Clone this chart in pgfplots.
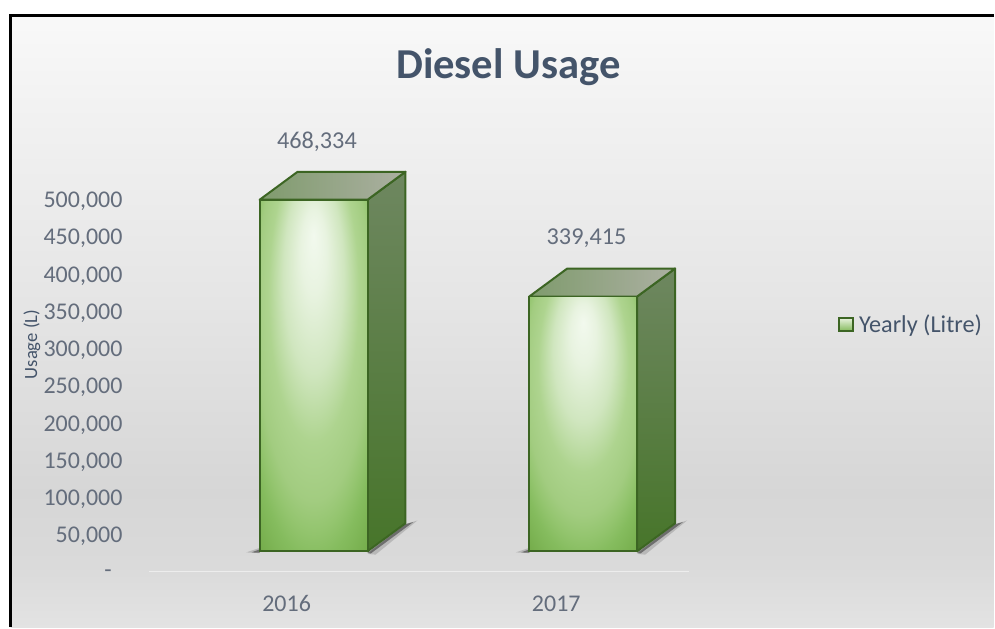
\documentclass[border=0pt]{standalone}
\usepackage{fontspec}
\setmainfont{Carlito}
\usepackage{pgfplots}
\pgfplotsset{compat=1.18}

% 1px of the reference = 0.75pt
\definecolor{titleblue}{HTML}{44546A}
\definecolor{ticktext}{HTML}{646D7C}
\definecolor{baredge}{HTML}{3C6523}

\pgfdeclareverticalshading{bgshade}{100bp}{
  color(0bp)=(black!11);
  color(25bp)=(black!11);
  color(30bp)=(black!14.5);
  color(36bp)=(black!16);
  color(52bp)=(black!10);
  color(68bp)=(black!5);
  color(75bp)=(black!2.5);
  color(100bp)=(black!2.5)}

\pgfdeclareradialshading{barfront}{\pgfpoint{0bp}{20bp}}{
  color(0bp)=(rgb,255:red,242;green,249;blue,238);
  color(6bp)=(rgb,255:red,232;green,243;blue,224);
  color(14bp)=(rgb,255:red,208;green,230;blue,191);
  color(21bp)=(rgb,255:red,174;green,212;blue,143);
  color(27bp)=(rgb,255:red,162;green,204;blue,128);
  color(30bp)=(rgb,255:red,148;green,197;blue,111);
  color(33bp)=(rgb,255:red,133;green,188;blue,94);
  color(39bp)=(rgb,255:red,115;green,171;blue,73);
  color(50bp)=(rgb,255:red,115;green,171;blue,73)}

\pgfplotsset{
  frontface/.style={draw=baredge, line width=1.5pt, line join=round, shading=barfront, forget plot, mark=none},
  sideface/.style={draw=baredge, line width=1.5pt, line join=round, top color={rgb,255:red,110;green,135;blue,96}, bottom color={rgb,255:red,71;green,117;blue,42}, forget plot, mark=none},
  topface/.style={draw=baredge, line width=1.5pt, line join=round, left color={rgb,255:red,127;green,155;blue,109}, middle color={rgb,255:red,184;green,186;blue,175}, right color={rgb,255:red,172;green,176;blue,162}, forget plot, mark=none},
  shadow/.style={draw=none, fill=black, forget plot, mark=none},
}

\begin{document}
\begin{tikzpicture}[x=1pt,y=1pt]
% page and chart area
\fill[white] (0,0) rectangle (746.25,471);
\shade[shading=bgshade] (8,0) rectangle (746.25,459.5);
\draw[black, line width=2pt] (8,0) -- (8,459.5) -- (746.25,459.5);

% axis with the ticks, 0 at the faint floor line
\begin{axis}[
  at={(96pt,42pt)}, anchor=south west,
  scale only axis, width=421.5pt, height=279.75pt,
  xmin=-0.5889, xmax=1.4926, ymin=0, ymax=500000,
  clip=false,
  axis y line*=left, axis x line*=bottom,
  y axis line style={draw=none},
  x axis line style={draw=black!7, line width=1pt, shorten <=16pt},
  major tick length=0pt,
  scaled y ticks=false,
  xtick={0,1}, xticklabels={2016,2017},
  ytick={0,50000,100000,150000,200000,250000,300000,350000,400000,450000,500000},
  yticklabels={{\raisebox{-1.5pt}{-}\kern8pt},{50,000},{100,000},{150,000},{200,000},{250,000},{300,000},{350,000},{400,000},{450,000},{500,000}},
  tick label style={font=\fontsize{18}{18}\selectfont, text=ticktext},
  yticklabel style={xshift=-0.5pt, yshift=-2pt},
  xticklabel style={yshift=-15pt, text height=12pt, text depth=0pt},
  every axis y label/.style={at={(rel axis cs:-0.171,0.6086)}, rotate=90, anchor=center},
  ylabel={Usage (L)},
  ylabel style={font=\fontsize{14}{14}\selectfont, text=titleblue},
  every axis title/.style={at={(rel axis cs:0.678,1.354)}, anchor=center},
  title={Diesel Usage},
  title style={font=\fontsize{32}{34}\selectfont\bfseries, text=titleblue},
]
\addplot[draw=none, forget plot] coordinates {(0,0) (1,0)};
\end{axis}

% axis with the bars, 0 at the foot of the front faces
\begin{axis}[
  at={(96pt,57pt)}, anchor=south west,
  scale only axis, width=421.5pt, height=281.85pt,
  xmin=-0.6889, xmax=1.3926, ymin=0, ymax=500000,
  clip=false, axis lines=none,
  legend style={at={(rel axis cs:1.266,0.604)}, anchor=west, draw=none, fill=none,
    inner sep=0pt, outer sep=0pt, font=\fontsize{18.2}{18.2}\selectfont, text=titleblue},
  legend image code/.code={
    \draw[draw=baredge, line width=1.5pt, top color={rgb,255:red,232;green,242;blue,222}, bottom color={rgb,255:red,130;green,185;blue,90}]
      (0pt,-5pt) rectangle (10pt,5pt);},
]
% floor shadows, a wider faint one under a narrow darker one
\addplot[shadow, opacity=0.15] coordinates {(-0.25,-1500) (-0.20,4500) (-0.20,-2500)} -- cycle;
\addplot[shadow, opacity=0.40] coordinates {(-0.23,-1500) (-0.20,2500) (-0.20,-2000)} -- cycle;
\addplot[shadow, opacity=0.15] coordinates {(0.20,-3500) (0.34,36000) (0.385,41000) (0.23,-4500)} -- cycle;
\addplot[shadow, opacity=0.40] coordinates {(0.20,-2000) (0.34,36000) (0.37,39000) (0.212,-3000)} -- cycle;
\addplot[shadow, opacity=0.15] coordinates {(0.75,-1500) (0.80,4500) (0.80,-2500)} -- cycle;
\addplot[shadow, opacity=0.40] coordinates {(0.77,-1500) (0.80,2500) (0.80,-2000)} -- cycle;
\addplot[shadow, opacity=0.15] coordinates {(1.20,-3500) (1.34,36000) (1.385,41000) (1.23,-4500)} -- cycle;
\addplot[shadow, opacity=0.40] coordinates {(1.20,-2000) (1.34,36000) (1.37,39000) (1.212,-3000)} -- cycle;
% side and top faces
\addplot[sideface] coordinates {(0.2,0) (0.3407,37254) (0.3407,505588) (0.2,468334)} -- cycle;
\addplot[topface] coordinates {(-0.2,468334) (-0.0593,505588) (0.3407,505588) (0.2,468334)} -- cycle;
\addplot[sideface] coordinates {(1.2,0) (1.3407,37254) (1.3407,376669) (1.2,339415)} -- cycle;
\addplot[topface] coordinates {(0.8,339415) (0.9407,376669) (1.3407,376669) (1.2,339415)} -- cycle;
% front faces
\addplot[frontface] coordinates {(-0.2,0) (-0.2,468334) (0.2,468334) (0.2,0)} -- cycle;
\addplot[frontface] coordinates {(0.8,0) (0.8,339415) (1.2,339415) (1.2,0)} -- cycle;
% bars themselves: outline, value labels and legend entry
\addplot[ybar, bar width=81pt, bar shift=0pt, draw=baredge, line width=1.5pt, fill=none,
  nodes near coords={\pgfmathprintnumber{\pgfplotspointmeta}},
  every node near coord/.append style={font=\fontsize{18.2}{18}\selectfont, text=ticktext, anchor=center, yshift=43.5pt, xshift=2.5pt,
    /pgf/number format/.cd, fixed, precision=0, 1000 sep={,}, assume math mode=true},
] coordinates {(0,468334) (1,339415)};
\addlegendentry{\kern2pt Yearly (Litre)}
\end{axis}
\end{tikzpicture}
\end{document}
